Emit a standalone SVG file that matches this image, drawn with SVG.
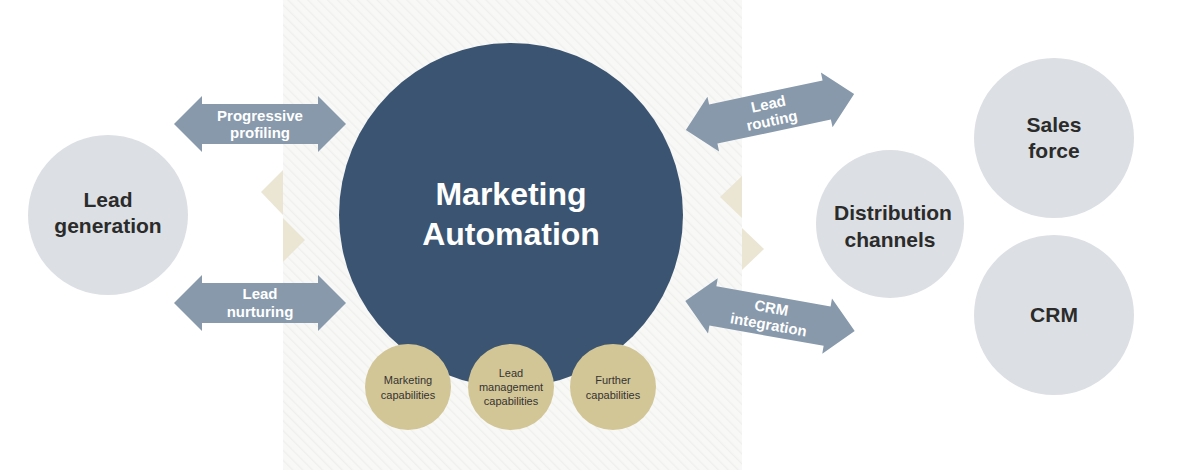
<svg xmlns="http://www.w3.org/2000/svg" width="1200" height="470" viewBox="0 0 1200 470">
<defs>
<pattern id="hatch" width="7" height="7" patternUnits="userSpaceOnUse" patternTransform="rotate(-45)">
<rect width="7" height="7" fill="#f8f8f7"/>
<line x1="0" y1="0" x2="0" y2="7" stroke="#efefed" stroke-width="2.5"/>
</pattern>
<path id="dbl" d="M-86,0 L-58,-28 L-58,-20 L58,-20 L58,-28 L86,0 L58,28 L58,20 L-58,20 L-58,28 Z"/>
</defs>
<style>
.t{font-family:"Liberation Sans",Arial,sans-serif;font-weight:bold;text-anchor:middle}
.big{font-size:21px;fill:#2b2b2b}
.arr{fill:#8799ab}
.al{font-size:15px;fill:#fff}
.sm{font-family:"Liberation Sans",Arial,sans-serif;font-size:11px;fill:#333;text-anchor:middle}
.gray{fill:#dcdfe3}
.tri{fill:#ebe5d3}
.tan{fill:#d3c696}
</style>
<rect width="1200" height="470" fill="#fff"/>
<rect x="283" y="0" width="459" height="470" fill="url(#hatch)"/>
<g id="triangles">
<polygon class="tri" points="283,170 283,215 261,192"/>
<polygon class="tri" points="283,218 283,262 305,240"/>
<polygon class="tri" points="742,176 742,218 720,197"/>
<polygon class="tri" points="742,228 742,270 764,249"/>
</g>
<g id="connectors">
<g transform="translate(260,124)"><use href="#dbl" class="arr"/><text class="t al" y="-3">Progressive</text><text class="t al" y="14">profiling</text></g>
<g transform="translate(260,303)"><use href="#dbl" class="arr"/><text class="t al" y="-4">Lead</text><text class="t al" y="14">nurturing</text></g>
<g transform="translate(770,112) rotate(-12)"><use href="#dbl" class="arr"/><text class="t al" y="-3">Lead</text><text class="t al" y="14">routing</text></g>
<g transform="translate(770,316) rotate(10)"><use href="#dbl" class="arr"/><text class="t al" y="-3">CRM</text><text class="t al" y="14">integration</text></g>
</g>
<g id="lead-generation"><circle cx="108" cy="215" r="80" class="gray"/><text class="t big" x="108" y="207">Lead</text><text class="t big" x="108" y="233">generation</text></g>
<g id="marketing-automation"><circle cx="511" cy="215" r="172" fill="#3a5471"/><text class="t" x="511" y="205" font-size="32" fill="#fff">Marketing</text><text class="t" x="511" y="245" font-size="32" fill="#fff">Automation</text></g>
<g id="marketing-capabilities"><circle cx="408" cy="387" r="43" class="tan"/><text class="sm" x="408" y="384">Marketing</text><text class="sm" x="408" y="399">capabilities</text></g>
<g id="lead-management"><circle cx="511" cy="387" r="43" class="tan"/><text class="sm" x="511" y="377">Lead</text><text class="sm" x="511" y="391">management</text><text class="sm" x="511" y="405">capabilities</text></g>
<g id="further-capabilities"><circle cx="613" cy="387" r="43" class="tan"/><text class="sm" x="613" y="384">Further</text><text class="sm" x="613" y="399">capabilities</text></g>
<g id="distribution-channels"><circle cx="890" cy="224" r="74" class="gray"/><text class="t big" x="893" y="220">Distribution</text><text class="t big" x="890" y="247">channels</text></g>
<g id="sales-force"><circle cx="1054" cy="138" r="80" class="gray"/><text class="t big" x="1054" y="132">Sales</text><text class="t big" x="1054" y="158">force</text></g>
<g id="crm"><circle cx="1054" cy="315" r="80" class="gray"/><text class="t big" x="1054" y="322">CRM</text></g>
</svg>
